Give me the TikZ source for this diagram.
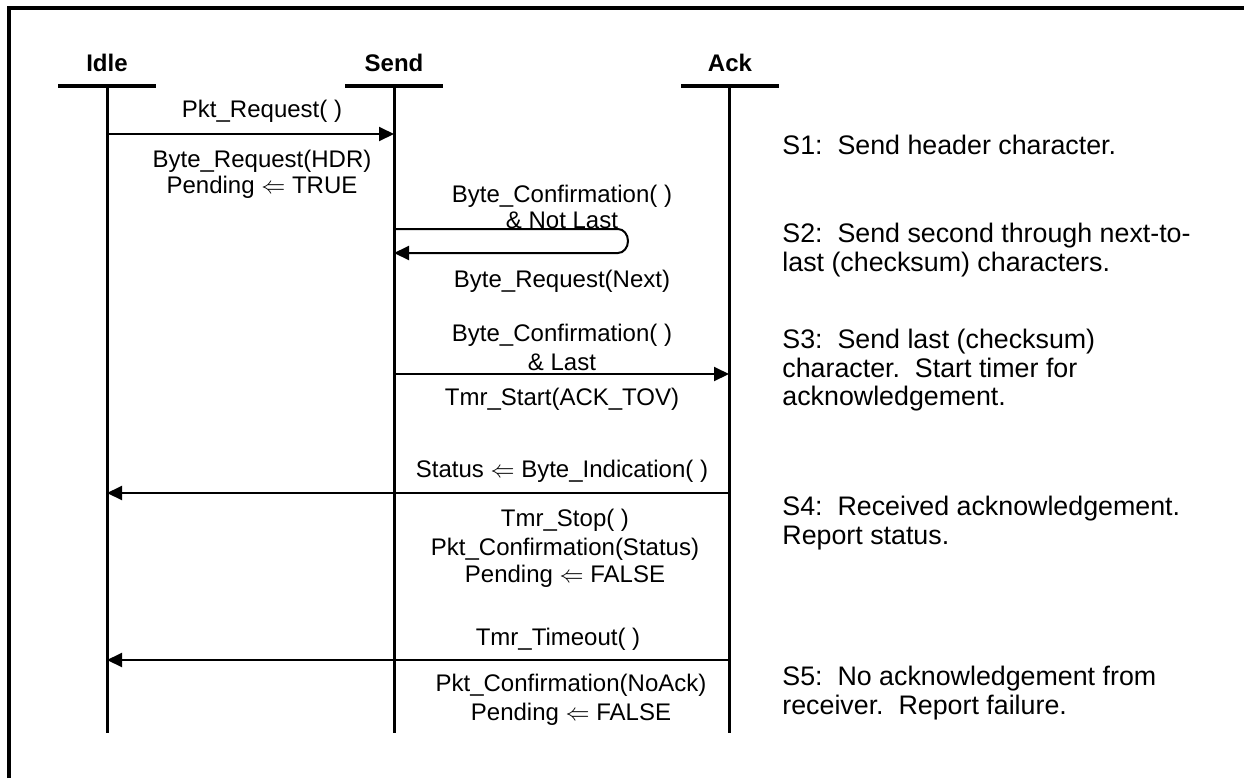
\documentclass[tikz,border=0pt]{standalone}
\usepackage{fontspec}
\setmainfont{Liberation Sans}
\usetikzlibrary{arrows.meta}
\begin{document}
\begin{tikzpicture}[x=0.5pt,y=-0.5pt,
  frame/.style={line width=2pt},
  head/.style={font=\bfseries\fontsize{12}{14}\selectfont, anchor=base, inner sep=0pt},
  headbar/.style={line width=1.6pt},
  life/.style={line width=1.5pt},
  msg/.style={line width=1pt, -{Triangle[length=7.5pt,width=7pt]}},
  lbl/.style={font=\fontsize{12}{14}\selectfont, anchor=base, inner sep=0pt},
  note/.style={font=\fontsize{13.4}{15}\selectfont, anchor=base west, inner sep=0pt}]
\useasboundingbox (0,0) rectangle (1244,778);

% open frame: top and left edges
\draw[frame] (9,778) -- (9,8) -- (1244,8);

% lifeline heads
\node[head] (hidle) at (107,71) {Idle};
\node[head] (hsend) at (394,71) {Send};
\node[head] (hack)  at (730,71) {Ack};
\draw[headbar] (58,86) -- (156,86);
\draw[headbar] (345,86) -- (443,86);
\draw[headbar] (681,86) -- (779,86);

% lifelines
\coordinate (idleT) at (107,86);  \coordinate (idleB) at (107,733);
\coordinate (sendT) at (394,86);  \coordinate (sendB) at (394,733);
\coordinate (ackT)  at (729,86);  \coordinate (ackB)  at (729,733);
\draw[life] (idleT) -- (idleB);
\draw[life] (sendT) -- (sendB);
\draw[life] (ackT) -- (ackB);

% message anchor points on the lifelines
\coordinate (i1) at (107,134); \coordinate (s1) at (394,134);
\coordinate (s2a) at (394,229); \coordinate (s2b) at (394,253);
\coordinate (s3) at (394,374); \coordinate (a3) at (729,374);
\coordinate (a4) at (729,493); \coordinate (i4) at (107,493);
\coordinate (a5) at (729,660); \coordinate (i5) at (107,660);

% S1
\draw[msg] (i1) -- (s1);
\node[lbl] (t1a) at (262,117) {Pkt\_Request( )};
\node[lbl] (t1b) at (262,167) {Byte\_Request(HDR)};
\node[lbl] (t1c) at (262,193) {Pending $\Leftarrow$ TRUE};

% S2: self loop on Send
\draw[msg] (s2a) -- (618,229) arc[start angle=-90, end angle=90, x radius=10, y radius=12] -- (s2b);
\node[lbl] (t2a) at (562,202) {Byte\_Confirmation( )};
\node[lbl] (t2b) at (562,228) {\& Not Last};
\node[lbl] (t2c) at (562,287) {Byte\_Request(Next)};

% S3
\draw[msg] (s3) -- (a3);
\node[lbl] (t3a) at (562,341) {Byte\_Confirmation( )};
\node[lbl] (t3b) at (562,370) {\& Last};
\node[lbl] (t3c) at (562,405) {Tmr\_Start(ACK\_TOV)};

% S4
\draw[msg] (a4) -- (i4);
\node[lbl] (t4a) at (562,477) {Status $\Leftarrow$ Byte\_Indication( )};
\node[lbl] (t4b) at (565,526) {Tmr\_Stop( )};
\node[lbl] (t4c) at (565,555) {Pkt\_Confirmation(Status)};
\node[lbl] (t4d) at (565,582) {Pending $\Leftarrow$ FALSE};

% S5
\draw[msg] (a5) -- (i5);
\node[lbl] (t5a) at (558,645) {Tmr\_Timeout( )};
\node[lbl] (t5b) at (571,691) {Pkt\_Confirmation(NoAck)};
\node[lbl] (t5c) at (571,720) {Pending $\Leftarrow$ FALSE};

% step descriptions
\node[note] (n1a) at (782,154) {S1:\ \ Send header character.};
\node[note] (n2a) at (782,242) {S2:\ \ Send second through next-to-};
\node[note] (n2b) at (782,271) {last (checksum) characters.};
\node[note] (n3a) at (782,348) {S3:\ \ Send last (checksum)};
\node[note] (n3b) at (782,377) {character.\ \ Start timer for};
\node[note] (n3c) at (782,405) {acknowledgement.};
\node[note] (n4a) at (782,515) {S4:\ \ Received acknowledgement.};
\node[note] (n4b) at (782,544) {Report status.};
\node[note] (n5a) at (782,685) {S5:\ \ No acknowledgement from};
\node[note] (n5b) at (782,714) {receiver.\ \ Report failure.};
\end{tikzpicture}
\end{document}
